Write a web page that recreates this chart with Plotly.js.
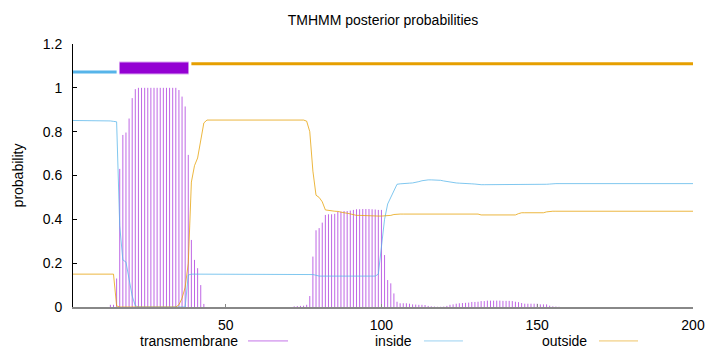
<!DOCTYPE html>
<html>
<head>
<meta charset="utf-8">
<script src="https://cdn.plot.ly/plotly-3.0.1.min.js"></script>
<style>html,body{margin:0;padding:0;background:#fff;}#chart{width:720px;height:352px;}</style>
</head>
<body>
<div id="chart"></div>
<script>
// ---- data ----
var seriesNames = ['transmembrane', 'inside', 'outside'];

var transmembrane = [
 0,0,0,0,0,0,0,0,0,0,0,0,
 0.01,0.01,0.13,0.63,0.785,0.796,0.86,0.953,0.994,
 1,1,1,1,1,1,1,1,1,1,1,1,1,
 0.99,0.96,0.915,0.694,0.306,0.215,0.177,0.10,0.014,
 0,0,0,0,0,0,0,0,0,0,0,0,0,0,0,0,0,0,0,0,0,0,0,0,0,0,0,0,
 0.003,0.004,0.005,0.006,0.01,0.05,0.23,0.35,0.36,0.385,0.42,0.423,0.423,0.425,0.435,0.435,0.438,0.438,0.44,0.443,
 0.446,0.446,0.447,0.447,0.447,0.446,0.445,0.443,0.443,0.237,0.123,0.108,0.062,0.024,0.017,0.017,0.017,0.015,0.012,0.011,
 0.01,0.01,0.009,0.005,0.003,0.002,0.001,0.001,0.002,0.005,0.01,0.012,0.015,0.017,0.018,0.019,0.02,0.023,0.023,0.024,
 0.027,0.027,0.029,0.029,0.029,0.029,0.029,0.028,0.028,0.028,0.027,0.024,0.022,0.018,0.015,0.015,0.015,0.015,0.015,0.012,
 0.012,0.012,0.006,0.003,0.002,0.001,
 0,0,0,0,0,0,0,0,0,0,0,0,0,0,0,0,0,0,0,0,0,0,0,0,0,0,0,0,0,0,0,0,0,0,0,0,0,0,0,0,0,0,0
];

var inside = [
 0.851,0.851,0.851,0.851,0.851,0.851,0.851,0.851,0.851,0.851,0.851,0.851,
 0.849,0.847,0.845,0.37,0.215,0.205,0.135,0.05,0.006,
 0,0,0,0,0,0,0,0,0,0,0,0,0,0,0,0,
 0.146,
 0.15,0.15,0.15,0.15,0.15,0.15,0.15,0.15,0.15,0.15,0.15,0.15,0.15,0.15,0.15,0.15,0.15,0.15,0.15,0.15,
 0.15,0.15,0.15,0.15,0.15,0.15,0.15,0.15,0.15,0.15,0.15,0.15,0.15,0.15,0.15,0.15,0.15,0.15,0.15,
 0.148,0.145,
 0.141,0.141,0.141,0.141,0.141,0.141,0.141,0.141,0.141,0.141,0.141,0.141,0.141,0.141,0.141,0.141,0.141,0.141,0.141,
 0.15,0.27,0.40,0.47,0.50,0.53,0.56,0.562,0.564,0.565,0.565,0.566,0.568,0.572,0.576,0.579,
 0.58,0.58,0.58,0.58,0.578,0.575,0.572,0.57,0.568,0.566,0.565,0.565,0.564,0.563,0.562,0.561,
 0.558,0.558,0.558,0.558,0.558,0.558,0.558,0.558,0.558,0.558,
 0.557,0.557,0.557,0.557,0.557,0.557,0.557,0.557,0.557,0.557,
 0.558,0.559,0.56,0.561,
 0.563,0.563,0.563,0.563,0.563,0.563,0.563,0.563,0.563,0.563,0.563,0.563,0.563,0.563,0.563,0.563,0.563,0.563,0.563,0.563,0.563,0.563,0.563,
 0.563,0.563,0.563,0.563,0.563,0.563,0.563,0.563,0.563,0.563,0.563,0.563,0.563,0.563,0.563,0.563,0.563,0.563,0.563,0.563,0.563,0.563,0.563
];

var outside = [
 0.15,0.15,0.15,0.15,0.15,0.15,0.15,0.15,0.15,0.15,0.15,0.15,0.15,0.15,
 0.005,
 0,0,0,0,0,0,0,0,0,0,0,0,0,0,0,0,0,0,0,
 0.01,0.04,0.09,0.2,0.57,0.645,0.68,0.755,0.84,
 0.853,0.853,0.853,0.853,0.853,0.853,0.853,0.853,0.853,0.853,0.853,0.853,0.853,0.853,0.853,0.853,
 0.853,0.853,0.853,0.853,0.853,0.853,0.853,0.853,0.853,0.853,0.853,0.853,0.853,0.853,0.853,0.853,
 0.848,0.80,0.62,0.51,0.50,0.48,0.443,0.44,0.437,0.437,0.436,0.432,0.43,0.428,0.425,0.42,0.418,0.418,0.417,0.416,
 0.415,0.415,0.415,0.415,0.415,0.415,0.415,
 0.418,0.422,
 0.424,0.424,0.424,0.424,0.424,0.424,0.424,0.424,0.424,0.424,0.424,0.424,0.424,0.424,
 0.424,0.424,0.424,0.424,0.424,0.424,0.424,0.424,0.424,0.424,0.424,0.424,0.424,
 0.42,0.42,0.42,0.42,0.42,0.42,0.42,0.42,0.42,0.42,0.42,0.42,
 0.426,
 0.43,0.43,0.43,0.43,0.43,0.43,0.43,0.43,
 0.434,
 0.437,0.437,0.437,0.437,0.437,0.437,0.437,0.437,0.437,0.437,0.437,0.437,0.437,0.437,0.437,0.437,0.437,0.437,0.437,0.437,0.437,0.437,0.437,0.437,
 0.437,0.437,0.437,0.437,0.437,0.437,0.437,0.437,0.437,0.437,0.437,0.437,0.437,0.437,0.437,0.437,0.437,0.437,0.437,0.437,0.437,0.437,0.437
];

// predicted topology segments (residue ranges)
var segStart = [1, 16, 39];
var segEnd   = [15, 38, 200];
var segType  = ['inside', 'transmembrane', 'outside'];

var xTicks = [50, 100, 150, 200];
var yTicks = [0, 0.2, 0.4, 0.6, 0.8, 1, 1.2];
var yTickText = ['0', '0.2', '0.4', '0.6', '0.8', '1', '1.2'];

// ---- styles ----
var FONT = 'Liberation Sans, Arial, sans-serif';
var C_TM = '#9400d3', C_IN = '#56b4e9', C_OUT = '#e69f00';
var segStyle = {
  inside:        {y: 1.072, color: C_IN,  width: 3},
  transmembrane: {y: 1.091, color: C_TM,  width: 11},
  outside:       {y: 1.11,  color: C_OUT, width: 3}
};

var residues = transmembrane.map(function (_, i) { return i + 1; });

// impulses for transmembrane
var ix = [], iy = [];
residues.forEach(function (r, i) {
  if (transmembrane[i] > 0) { ix.push(r, r, null); iy.push(0, transmembrane[i], null); }
});

var traces = [
  {type: 'scatter', mode: 'lines', x: ix, y: iy, name: 'transmembrane',
   line: {color: 'rgba(148,0,211,0.6)', width: 1}, hoverinfo: 'skip'},
  {type: 'scatter', mode: 'lines', x: residues, y: inside, name: 'inside',
   line: {color: 'rgba(86,180,233,0.75)', width: 1}},
  {type: 'scatter', mode: 'lines', x: residues, y: outside, name: 'outside',
   line: {color: 'rgba(230,159,0,0.75)', width: 1}}
];

// topology bars at the top
segStart.forEach(function (s, i) {
  var st = segStyle[segType[i]];
  if (segType[i] === 'transmembrane') {
    traces.push({type: 'scatter', mode: 'lines', x: [s - 0.15, segEnd[i] + 0.15], y: [st.y, st.y],
      line: {color: 'rgba(148,0,211,0.35)', width: st.width + 2}, showlegend: false, hoverinfo: 'skip'});
  }
  traces.push({type: 'scatter', mode: 'lines', x: [s, segEnd[i]], y: [st.y, st.y],
    line: {color: st.color, width: st.width}, showlegend: false, hoverinfo: 'skip'});
});

// custom legend (text followed by sample line, gnuplot style)
var legTextRight = [0.2694, 0.55, 0.8323];
var legSample = [[0.2823, 0.3468], [0.5661, 0.629], [0.8484, 0.9113]];
var legColors = ['rgba(148,0,211,0.55)', 'rgba(86,180,233,0.6)', 'rgba(230,159,0,0.6)'];
var legY = -0.129;
var annotations = [], shapes = [];
seriesNames.forEach(function (n, i) {
  annotations.push({xref: 'paper', yref: 'paper', x: legTextRight[i], y: legY, xanchor: 'right', yanchor: 'middle',
    text: n, showarrow: false, font: {family: FONT, size: 14, color: '#000'}});
  shapes.push({type: 'line', xref: 'paper', yref: 'paper', x0: legSample[i][0], x1: legSample[i][1], y0: legY, y1: legY,
    line: {color: legColors[i], width: 1}});
});

var layout = {
  width: 720, height: 352,
  margin: {l: 73, r: 27, t: 44, b: 45},
  paper_bgcolor: '#fff', plot_bgcolor: '#fff',
  showlegend: false,
  title: {text: 'TMHMM posterior probabilities', x: 0.5, xref: 'paper', xanchor: 'center',
          y: 0.943, yref: 'container', yanchor: 'middle', font: {family: FONT, size: 14, color: '#000'}},
  xaxis: {range: [1, 200], tickvals: xTicks, ticks: 'inside', ticklen: 3, tickcolor: '#888', tickwidth: 1,
          showline: true, linecolor: '#888', linewidth: 2, showgrid: false, zeroline: false,
          tickfont: {family: FONT, size: 14, color: '#000'}, ticklabelstandoff: 4},
  yaxis: {range: [0, 1.2], tickvals: yTicks, ticktext: yTickText, ticks: 'inside', ticklen: 4, tickcolor: '#000',
          showline: true, linecolor: '#000', linewidth: 1, showgrid: false, zeroline: false,
          tickfont: {family: FONT, size: 14, color: '#000'}, ticklabelstandoff: 7,
          automargin: true, title: {text: 'probability', font: {family: FONT, size: 14, color: '#000'}, standoff: 15}},
  yaxis2: {overlaying: 'y', side: 'right', range: [0, 1.2], tickvals: yTicks, ticks: 'inside', ticklen: 4,
           tickcolor: '#888', showline: true, linecolor: '#888', linewidth: 2, showticklabels: false,
           showgrid: false, zeroline: false},
  annotations: annotations,
  shapes: shapes
};

Plotly.newPlot('chart', traces, layout, {staticPlot: true, displayModeBar: false});
</script>
</body>
</html>
